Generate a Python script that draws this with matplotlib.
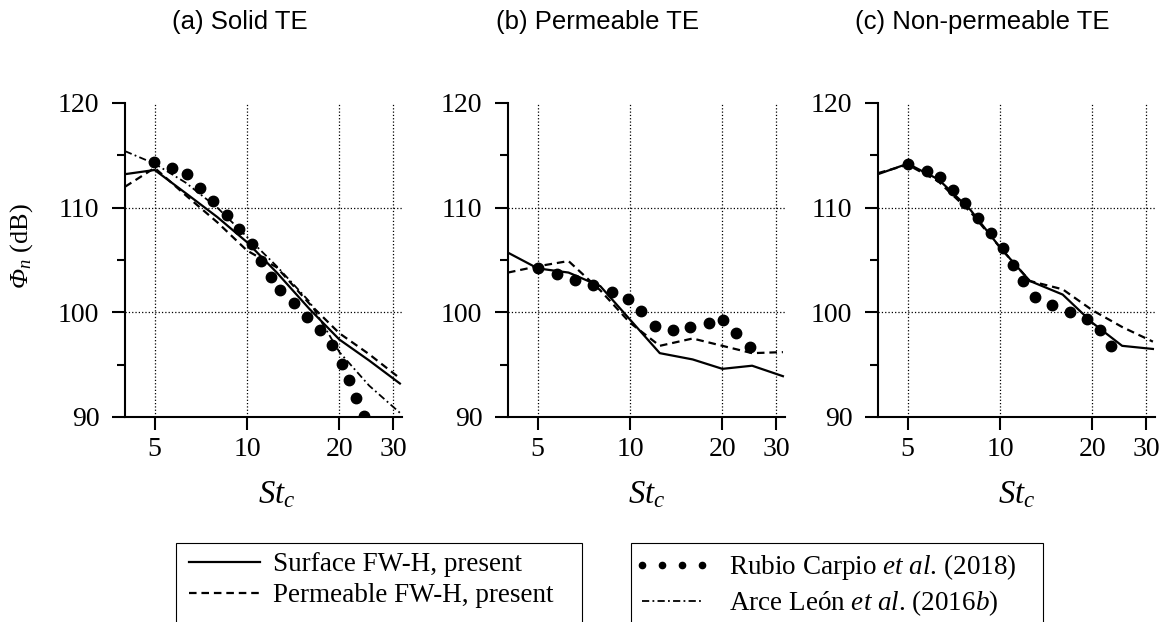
import matplotlib
matplotlib.use("Agg")
import matplotlib.pyplot as plt
from matplotlib.ticker import MultipleLocator, NullLocator
from matplotlib.legend_handler import HandlerLine2D
from matplotlib.patches import Rectangle

# 1/3-octave band centres of the simulated spectra
st_band = [4, 5, 6.3, 8, 10, 12.5, 16, 20, 25, 31.5]

# (a) Solid TE
surf_a = [113.2, 113.6, 111.4, 109.1, 106.7, 103.8, 100.3, 97.4, 95.4, 93.2]
perm_a = [112.0, 113.8, 111.2, 108.6, 105.9, 104.3, 100.8, 98.0, 96.0, 93.7]
arce_a = [115.4, 114.2, 112.4, 110.0, 107.2, 104.4, 101.0, 96.2, 93.0, 90.4]
rubio_a_st = [4.97, 5.71, 6.36, 7.00, 7.76, 8.60, 9.39, 10.38, 11.11, 11.98,
              12.82, 14.18, 15.72, 17.24, 18.93, 20.41, 21.51, 22.73, 24.09]
rubio_a = [114.4, 113.8, 113.2, 111.9, 110.6, 109.3, 108.0, 106.5, 104.9, 103.4,
           102.1, 100.9, 99.6, 98.3, 96.9, 95.1, 93.5, 91.8, 90.1]

# (b) Permeable TE
surf_b = [105.7, 104.2, 103.8, 102.5, 99.3, 96.1, 95.5, 94.6, 94.9, 93.9]
perm_b = [103.8, 104.4, 104.9, 102.1, 99.0, 96.8, 97.5, 96.8, 96.1, 96.2]
rubio_b_st = [5.00, 5.79, 6.60, 7.57, 8.70, 9.85, 10.84, 12.07, 13.76, 15.71,
              18.04, 20.04, 22.2, 24.56]
rubio_b = [104.2, 103.7, 103.1, 102.6, 101.9, 101.3, 100.1, 98.7, 98.3, 98.6,
           99.0, 99.3, 98.0, 96.7]

# (c) Non-permeable TE
surf_c = [113.2, 114.2, 112.7, 109.8, 106.2, 103.0, 101.7, 99.0, 96.8, 96.5]
perm_c = [113.3, 114.1, 112.5, 109.6, 106.2, 103.0, 102.2, 100.2, 98.6, 97.2]
rubio_c_st = [5.00, 5.76, 6.35, 7.02, 7.66, 8.50, 9.32, 10.26, 10.98, 11.84,
              12.98, 14.79, 16.86, 19.2, 21.1, 23.0]
rubio_c = [114.2, 113.5, 112.9, 111.7, 110.4, 109.0, 107.6, 106.1, 104.5, 103.0,
           101.5, 100.7, 100.0, 99.4, 98.3, 96.8]

titles = ["(a) Solid TE", "(b) Permeable TE", "(c) Non-permeable TE"]
xtick_vals = [5, 10, 20, 30]
ytick_vals = [90, 100, 110, 120]

plt.rcParams['font.family'] = 'Liberation Serif'
plt.rcParams['mathtext.fontset'] = 'custom'
plt.rcParams['mathtext.rm'] = 'Liberation Serif:italic'
plt.rcParams['mathtext.it'] = 'Liberation Serif:italic'

W, H = 1166, 622
DASHED = (0, (3.4, 2.2))
DASHDOT = (0, (4.0, 1.8, 1.0, 1.8))


def style_axis(ax):
    ax.set_xscale('log')
    ax.set_xlim(4, 32)
    ax.set_ylim(90, 120)
    ax.set_xticks(xtick_vals, labels=[str(v) for v in xtick_vals])
    ax.xaxis.set_minor_locator(NullLocator())
    ax.set_yticks(ytick_vals)
    ax.yaxis.set_minor_locator(MultipleLocator(5))
    ax.tick_params(which='major', direction='out', length=9.5, width=1.5,
                   labelsize=20)
    ax.tick_params(which='minor', direction='out', length=5.5, width=1.5)
    ax.tick_params(axis='x', pad=5)
    ax.tick_params(axis='y', pad=9)
    for side in ['top', 'right']:
        ax.spines[side].set_visible(False)
    for side in ['left', 'bottom']:
        ax.spines[side].set_linewidth(1.5)
    ax.grid(True, which='major', linestyle=':', linewidth=0.9, color='black')
    # no grid line along the top edge
    ax.yaxis.get_major_ticks()[-1].gridline.set_visible(False)
    ax.set_xlabel(r'$St_c$', fontsize=23.5)
    ax.xaxis.set_label_coords(0.5, -0.2)


def main():
    fig = plt.figure(figsize=(W / 100, H / 100), dpi=100)
    lefts = [125, 508, 878]
    axes = [fig.add_axes([l / W, 1 - 417 / H, 277 / W, 314 / H]) for l in lefts]

    surfs = [surf_a, surf_b, surf_c]
    perms = [perm_a, perm_b, perm_c]
    rubio_st = [rubio_a_st, rubio_b_st, rubio_c_st]
    rubio = [rubio_a, rubio_b, rubio_c]

    for i, ax in enumerate(axes):
        h_surf, = ax.plot(st_band, surfs[i], color='black', lw=1.6)
        h_perm, = ax.plot(st_band, perms[i], color='black', lw=1.6, linestyle=DASHED)
        h_rubio, = ax.plot(rubio_st[i], rubio[i], linestyle='none', marker='o',
                           markersize=7.5, color='black', zorder=4)
        if i == 0:
            h_arce, = ax.plot(st_band, arce_a, color='black', lw=1.3, linestyle=DASHDOT)
        style_axis(ax)

    axes[0].xaxis.set_label_coords(0.547, -0.2)
    axes[0].set_ylabel(r'$\Phi_n$ (dB)', fontsize=19)
    axes[0].yaxis.set_label_coords(-0.325, 0.545)

    # panel titles
    for cx, title in zip([240, 597, 982], titles):
        fig.text(cx / W, 1 - 22 / H, title, ha='center', va='center',
                 family='Liberation Sans', fontsize=18.5)

    # legends (frames run off the bottom edge)
    fig.legend([h_surf, h_perm], ['Surface FW-H, present', 'Permeable FW-H, present'],
               loc='upper left', bbox_to_anchor=(189 / W, 1 - 552 / H),
               frameon=False, borderpad=0, borderaxespad=0, handlelength=2.63,
               handletextpad=0.48, labelspacing=0.24, fontsize=19.5)
    fig.legend([h_rubio, h_arce],
               [r'Rubio Carpio $et\ al$. (2018)', r'Arce León $et\ al$. (2016$b$)'],
               loc='upper left', bbox_to_anchor=(642 / W, 1 - 552 / H),
               frameon=False, borderpad=0, borderaxespad=0, handlelength=2.2,
               handletextpad=1.0, labelspacing=0.24, fontsize=19.5, markerscale=0.6,
               handler_map={h_rubio: HandlerLine2D(numpoints=4, marker_pad=0)})
    for x0, x1 in [(176, 582), (631, 1043)]:
        fig.add_artist(Rectangle((x0 / W, -0.05), (x1 - x0) / W, 0.05 + 1 - 543 / H,
                                 transform=fig.transFigure, fill=False, lw=0.8,
                                 ec='black'))

    fig.savefig('out.png', dpi=100)


if __name__ == "__main__":
    main()
